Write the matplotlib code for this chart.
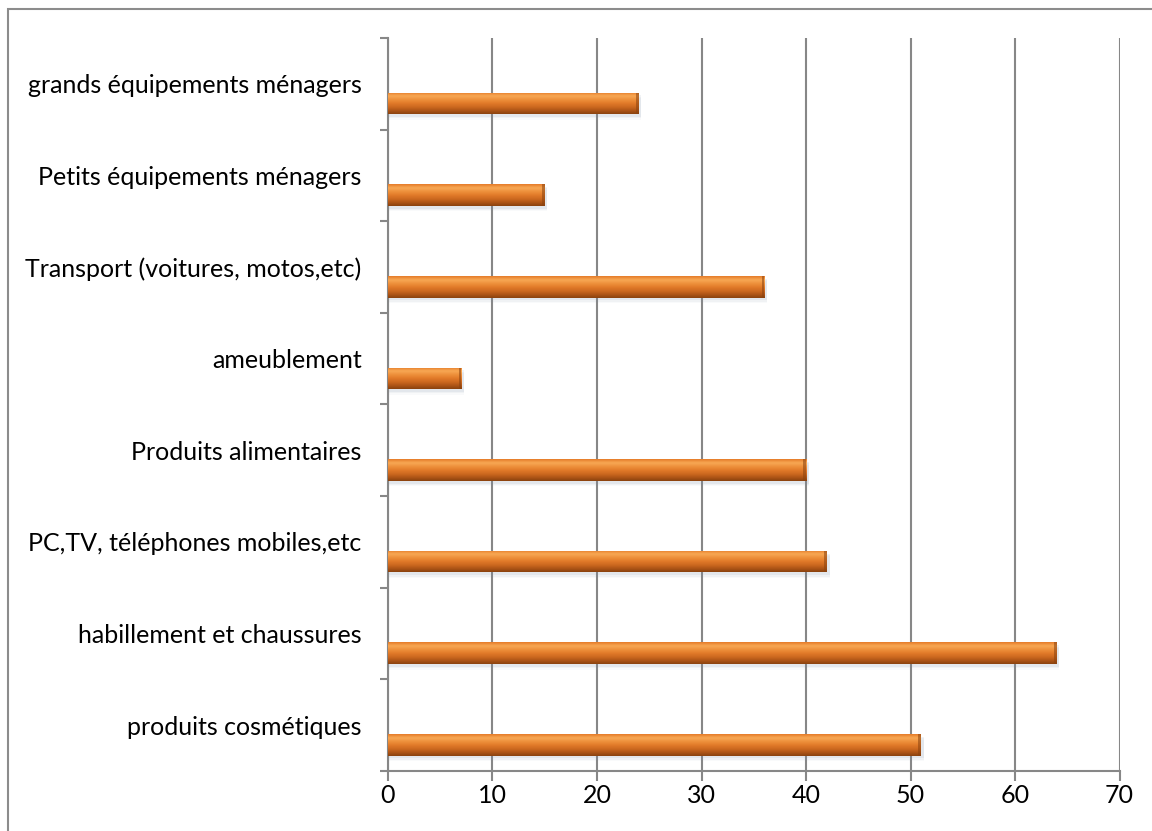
import numpy as np
import matplotlib.pyplot as plt
from matplotlib.colors import LinearSegmentedColormap
from matplotlib.patches import Rectangle

categories = ["produits cosmétiques", "habillement et chaussures",
              "PC,TV, téléphones mobiles,etc", "Produits alimentaires",
              "ameublement", "Transport (voitures, motos,etc)",
              "Petits équipements ménagers", "grands équipements ménagers"]
values = [51, 64, 42, 40, 7, 36, 15, 24]
xticks = [0, 10, 20, 30, 40, 50, 60, 70]

plt.rcParams['font.family'] = ['Lato', 'DejaVu Sans']

fig = plt.figure(figsize=(11.52, 8.31), dpi=100)
ax = fig.add_axes([0.3368, 0.0722, 0.9718 - 0.3368, 0.9543 - 0.0722])

# outer frame (only left/top visible in the reference)
fig.patches.append(Rectangle((8 / 1152, -0.1), 1.2, 1 - 9 / 831 + 0.1,
                             transform=fig.transFigure, fill=False,
                             edgecolor='#8c8c8c', linewidth=1.5))

grey = '#878787'
pos = np.arange(len(categories))
offset = 0.215
h = 0.235

# orange gradient, light at top, dark at bottom
cmap = LinearSegmentedColormap.from_list(
    'bar', ['#8a420e', '#b05617', '#cf6a20', '#e27b2a', '#ee913c',
            '#f8a955', '#e57b28'])
grad = np.linspace(0, 1, 64).reshape(-1, 1)

for p, v in zip(pos, values):
    yc = p - offset
    # soft shadow
    for k, a in enumerate([0.10, 0.07, 0.04]):
        ax.barh(yc - 0.03 - 0.015 * k, v + 0.25, height=h, left=0,
                color='#7f8fa6', alpha=a, linewidth=0, zorder=2)
    bars = ax.barh(yc, v, height=h, color='#e07b2a', linewidth=0, zorder=3)
    im = ax.imshow(grad, cmap=cmap, aspect='auto', origin='lower',
                   extent=(0, v, yc - h / 2, yc + h / 2), zorder=4,
                   interpolation='bicubic')
    im.set_clip_path(bars[0])
    # darker end cap
    ax.barh(yc, 0.25, left=v - 0.25, height=h, color='#8a420f',
            alpha=0.55, linewidth=0, zorder=5)

ax.set_xlim(0, 70)
ax.set_ylim(-0.5, len(categories) - 0.5)
ax.set_xticks(xticks)
ax.set_xticklabels([str(t) for t in xticks], fontsize=18)
ax.set_yticks(np.arange(len(categories) + 1) - 0.5)
ax.set_yticklabels([])
ax.set_yticks(pos, minor=True)
ax.set_yticklabels(categories, minor=True, fontsize=18)
ax.tick_params(axis='y', which='minor', length=0, pad=19)
ax.tick_params(axis='y', which='major', length=6, width=1.5, color=grey)
ax.tick_params(axis='x', length=7, width=1.5, color=grey, pad=2)

ax.grid(axis='x', color=grey, linewidth=1.5, zorder=1)
ax.set_axisbelow(True)
for s in ['top', 'right']:
    ax.spines[s].set_visible(False)
for s in ['left', 'bottom']:
    ax.spines[s].set_color(grey)
    ax.spines[s].set_linewidth(1.5)

fig.savefig('out.png', dpi=100, facecolor='white')
